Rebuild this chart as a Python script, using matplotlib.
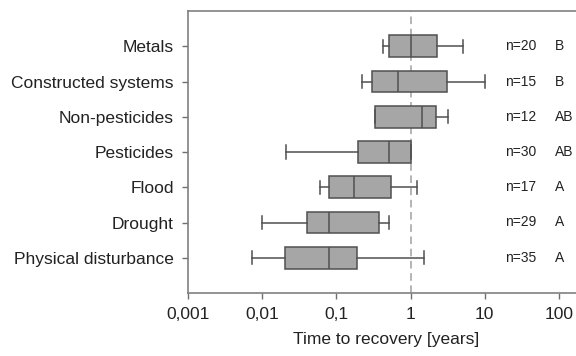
import matplotlib
matplotlib.use('Agg')
import matplotlib.pyplot as plt
import matplotlib.ticker as mticker

# Datos (tiempo de recuperacion, años)
categorias = ['Physical disturbance', 'Drought', 'Flood', 'Pesticides',
              'Non-pesticides', 'Constructed systems', 'Metals']
bigote_bajo = [0.0074, 0.010, 0.061, 0.021, 0.33, 0.22, 0.43]
q1 = [0.0205, 0.040, 0.081, 0.194, 0.33, 0.30, 0.52]
mediana = [0.081, 0.081, 0.171, 0.51, 1.43, 0.68, 1.0]
q3 = [0.191, 0.38, 0.545, 1.0, 2.18, 3.06, 2.3]
bigote_alto = [1.53, 0.51, 1.21, 1.0, 3.2, 10.2, 5.1]
n_textos = ['n=35', 'n=29', 'n=17', 'n=30', 'n=12', 'n=15', 'n=20']
grupos = ['A', 'A', 'A', 'AB', 'AB', 'B', 'B']

plt.rcParams['font.family'] = ['Liberation Sans', 'DejaVu Sans']

fig = plt.figure(figsize=(5.76, 3.56), dpi=100)
# el eje sigue mas alla del borde derecho (imagen recortada)
ax = fig.add_axes([0.326, 0.177, 0.7, 0.792])

stats = []
for i in range(len(categorias)):
    stats.append({'whislo': bigote_bajo[i], 'q1': q1[i], 'med': mediana[i],
                  'q3': q3[i], 'whishi': bigote_alto[i], 'label': categorias[i]})

borde = '#505050'
ax.bxp(stats, positions=range(1, 8), vert=False, widths=0.62,
       patch_artist=True, showfliers=False, capwidths=0.37,
       boxprops=dict(facecolor='#a6a6a6', edgecolor=borde, linewidth=1.1),
       medianprops=dict(color=borde, linewidth=1.1),
       whiskerprops=dict(color=borde, linewidth=1.1),
       capprops=dict(color=borde, linewidth=1.1))

ax.axvline(1, color='#a0a0a0', linestyle=(0, (5, 3)), linewidth=1.1, zorder=0)

ax.set_xscale('log')
ax.set_xlim(0.001, 10 ** 2.43)
ax.set_ylim(0, 8)
ax.xaxis.set_major_locator(mticker.FixedLocator([0.001, 0.01, 0.1, 1, 10, 100]))
ax.xaxis.set_minor_locator(mticker.NullLocator())
ax.set_xticklabels(['0,001', '0,01', '0,1', '1', '10', '100'])
ax.set_yticks(range(1, 8))
ax.set_yticklabels(categorias)
ax.tick_params(axis='both', labelsize=12.5, length=4, width=1,
               colors='#707070', labelcolor='#222222')
ax.tick_params(axis='x', pad=6)
ax.tick_params(axis='y', pad=6)

for lado in ['top', 'bottom', 'left']:
    ax.spines[lado].set_color('#808080')
    ax.spines[lado].set_linewidth(1.2)
ax.spines['right'].set_visible(False)

for i in range(len(categorias)):
    ax.text(18.6, i + 1, n_textos[i], fontsize=10, va='center', ha='left', color='#222222')
    ax.text(88, i + 1, grupos[i], fontsize=10, va='center', ha='left', color='#222222')

ax.set_xlabel('Time to recovery [years]', fontsize=12.5, color='#222222', labelpad=7)
ax.xaxis.label.set_x(0.491)

fig.savefig('out.png', dpi=100)
